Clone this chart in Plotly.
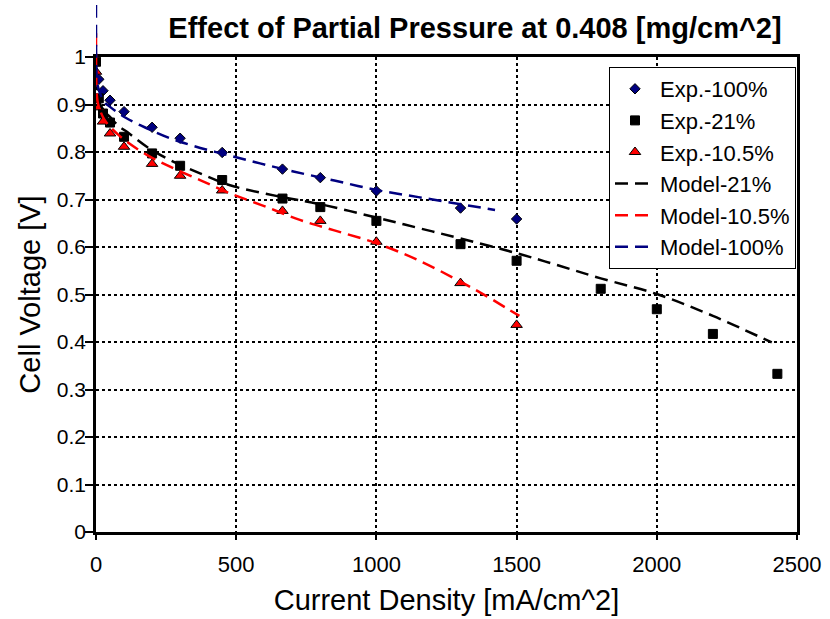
import plotly.graph_objects as go

# ---- data ----
exp_x_100 = [10, 25, 50, 100, 200, 300, 450, 665, 800, 1000, 1300, 1500]
exp_v_100 = [0.953, 0.929, 0.909, 0.885, 0.852, 0.829, 0.799, 0.764, 0.746, 0.718, 0.682, 0.659]

exp_x_21 = [0, 10, 25, 50, 100, 200, 300, 450, 665, 800, 1000, 1300, 1500, 1800, 2000, 2200, 2430]
exp_v_21 = [0.990, 0.913, 0.881, 0.862, 0.832, 0.797, 0.771, 0.741, 0.702, 0.684, 0.655, 0.606, 0.571,
            0.512, 0.469, 0.417, 0.333]

exp_x_105 = [0, 10, 25, 50, 100, 200, 300, 450, 665, 800, 1000, 1300, 1500]
exp_v_105 = [0.969, 0.894, 0.864, 0.839, 0.811, 0.775, 0.750, 0.719, 0.676, 0.655, 0.611, 0.524, 0.436]

mod_x_21 = [0, 1, 3, 6, 14, 30, 50, 80, 109, 181, 264, 371, 478, 656, 800, 1000, 1150, 1300, 1500,
            1650, 1800, 2000, 2200, 2410]
mod_v_21 = [1.00, 0.96, 0.935, 0.92, 0.902, 0.885, 0.874, 0.855, 0.843, 0.811, 0.783, 0.755, 0.730,
            0.706, 0.690, 0.662, 0.640, 0.618, 0.587, 0.561, 0.534, 0.501, 0.455, 0.399]

mod_x_105 = [0, 1, 3, 6, 14, 30, 50, 80, 109, 181, 264, 371, 478, 600, 727, 850, 1000, 1150, 1300,
             1400, 1476, 1510]
mod_v_105 = [1.05, 0.95, 0.92, 0.905, 0.888, 0.868, 0.853, 0.836, 0.822, 0.794, 0.769, 0.741, 0.713,
             0.686, 0.657, 0.635, 0.608, 0.572, 0.527, 0.494, 0.467, 0.455]

mod_x_100 = [0, 1, 3, 6, 14, 30, 50, 80, 109, 181, 264, 347, 466, 585, 704, 850, 1000, 1150, 1300, 1423]
mod_v_100 = [1.11, 0.98, 0.955, 0.94, 0.924, 0.905, 0.895, 0.882, 0.871, 0.850, 0.829, 0.813, 0.794,
             0.776, 0.759, 0.740, 0.720, 0.705, 0.690, 0.678]

x_ticks = [0, 500, 1000, 1500, 2000, 2500]
y_ticks = [0, 0.1, 0.2, 0.3, 0.4, 0.5, 0.6, 0.7, 0.8, 0.9, 1]

# ---- geometry ----
W, H = 830, 619
ML, MR, MT, MB = 96, 33, 5, 87
paper_h = H - MT - MB
plot_h = 475
ydom_top = plot_h / paper_h

FONT = "Liberation Sans, Arial, sans-serif"
NAVY = "#000080"
DASH = "13px,7px"

fig = go.Figure()

# empty trace so the framed axes subplot (x, y) is drawn
fig.add_trace(go.Scatter(x=[None], y=[None], mode="markers", showlegend=False,
                         hoverinfo="skip", xaxis="x", yaxis="y"))

fig.add_trace(go.Scatter(x=exp_x_100, y=exp_v_100, mode="markers", name="Exp.-100%",
                         marker=dict(symbol="diamond", size=8, color=NAVY,
                                     line=dict(color="black", width=1)),
                         xaxis="x2", yaxis="y2"))
fig.add_trace(go.Scatter(x=exp_x_21, y=exp_v_21, mode="markers", name="Exp.-21%",
                         marker=dict(symbol="square", size=9, color="black",
                                     line=dict(color="black", width=1)),
                         xaxis="x2", yaxis="y2"))
fig.add_trace(go.Scatter(x=exp_x_105, y=exp_v_105, mode="markers", name="Exp.-10.5%",
                         marker=dict(symbol="triangle-up", size=10, color="red",
                                     line=dict(color="black", width=1)),
                         xaxis="x2", yaxis="y2"))
fig.add_trace(go.Scatter(x=mod_x_21, y=mod_v_21, mode="lines", name="Model-21%",
                         line=dict(color="black", width=2.5, dash=DASH, shape="spline"),
                         xaxis="x2", yaxis="y2"))
fig.add_trace(go.Scatter(x=mod_x_105, y=mod_v_105, mode="lines", name="Model-10.5%",
                         line=dict(color="red", width=2.5, dash=DASH, shape="spline"),
                         xaxis="x2", yaxis="y2"))
fig.add_trace(go.Scatter(x=mod_x_100, y=mod_v_100, mode="lines", name="Model-100%",
                         line=dict(color=NAVY, width=2.5, dash=DASH, shape="spline"),
                         xaxis="x2", yaxis="y2"))

axis_common = dict(showline=True, linecolor="black", linewidth=2.5, mirror=True,
                   ticks="outside", tickwidth=1.5, tickcolor="black", automargin=False,
                   showgrid=True, gridcolor="black", gridwidth=1.5, griddash="3px,3px",
                   zeroline=False)

fig.update_layout(
    width=W, height=H,
    margin=dict(l=ML, r=MR, t=MT, b=MB, autoexpand=False),
    paper_bgcolor="white", plot_bgcolor="rgba(0,0,0,0)",
    showlegend=True,
    title=dict(text="<b>Effect of Partial Pressure at 0.408 [mg/cm^2]</b>",
               x=475 / W, xanchor="center", y=1 - 28 / H, yanchor="middle",
               xref="container", yref="container",
               font=dict(family=FONT, size=29, color="black")),
    xaxis=dict(range=[0, 2500], tickvals=x_ticks, domain=[0, 1], anchor="y",
               ticklen=5, ticklabelstandoff=6,
               tickfont=dict(family=FONT, size=22, color="black"),
               title=dict(text="Current Density [mA/cm^2]",
                          font=dict(family=FONT, size=29, color="black"), standoff=14),
               **axis_common),
    yaxis=dict(range=[0, 1], tickvals=y_ticks, ticktext=[f"{v:g}" for v in y_ticks],
               domain=[0, ydom_top], anchor="x",
               ticklen=8, ticklabelstandoff=-5,
               tickfont=dict(family=FONT, size=21, color="black"),
               title=dict(text="Cell Voltage [V]",
                          font=dict(family=FONT, size=29, color="black"), standoff=8),
               **axis_common),
    xaxis2=dict(range=[0, 2500], domain=[0, 1], anchor="y2", visible=False, showgrid=False,
                automargin=False),
    yaxis2=dict(range=[0, paper_h / plot_h], domain=[0, 1], anchor="x2", visible=False,
                showgrid=False, automargin=False),
    legend=dict(x=(609 - ML) / (W - ML - MR), y=(532 - 67) / paper_h,
                xanchor="left", yanchor="top",
                bgcolor="white", bordercolor="black", borderwidth=1,
                font=dict(family=FONT, size=22, color="black"),
                tracegroupgap=0, itemwidth=40),
)

fig.write_html("out.html")
